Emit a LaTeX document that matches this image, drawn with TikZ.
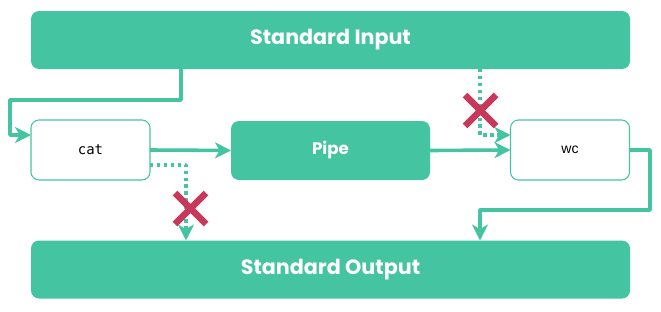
\documentclass[tikz,border=0pt]{standalone}
\usepackage{fontspec}
\setmainfont{Poppins}
\setsansfont{Liberation Sans}
\setmonofont{DejaVu Sans Mono}
\usetikzlibrary{arrows.meta}
\definecolor{tealbox}{HTML}{44C4A1}
\definecolor{crossred}{HTML}{C8385A}
\newcommand{\pxu}{0.75pt}

\begin{document}
\begin{tikzpicture}[x=0.75pt,y=-0.75pt,line join=round,
  every node/.style={inner sep=0pt,outer sep=0pt},
  stream/.style={rectangle,rounded corners=6pt,fill=tealbox,text=white,
    minimum width={599*\pxu},minimum height={58*\pxu},
    font=\fontsize{15.5pt}{18pt}\selectfont\bfseries},
  cmdbox/.style={rectangle,rounded corners=6pt,draw=tealbox,line width=0.8pt,fill=white,
    minimum width={119*\pxu},minimum height={60*\pxu},font=\fontsize{10.5pt}{12pt}\selectfont},
  pipebox/.style={rectangle,rounded corners=6pt,fill=tealbox,text=white,
    minimum width={199*\pxu},minimum height={59*\pxu},
    font=\fontsize{12.5pt}{14pt}\selectfont\bfseries},
  flow/.style={draw=tealbox,line width=2.7pt,
    -{Stealth[length=12pt,width=12pt,inset=3.5pt]}},
  blocked/.style={flow,dash pattern=on 2.6pt off 2.6pt},
  xmark/.style={draw=crossred,line width=4.8pt}]
  \path[use as bounding box] (0,0) rectangle (661,311);  % 源画布 661x311px
  % ---- 方框：中心取源图像素坐标 ----
  \node[stream]  (stdin)  at (330.5, 40.0) {Standard Input};
  \node[cmdbox]  (cat)    at ( 90.5,150.0) {\ttfamily cat};
  \node[pipebox] (pipe)   at (330.5,150.5) {Pipe};
  \node[cmdbox]  (wc)     at (570.0,150.0) {\sffamily wc};
  \node[stream]  (stdout) at (330.5,269.5) {Standard Output};
  % ---- 折点 ----
  \coordinate (j1) at (181,100);
  \coordinate (j2) at ( 10,135);
  \coordinate (j3) at (480,135);
  \coordinate (j4) at (186,165);
  \coordinate (j5) at (650,210);
  \coordinate (j6) at (480,210);
  % ---- 连线：实线通，点线被截断 ----
  \draw[flow] (stdin.south -| j1) -- (j1) -| (j2) -- (cat.west |- j2);
  \draw[flow] (cat.east) -- (pipe.west);
  \draw[flow] (pipe.east) -- (wc.west);
  \draw[flow] (wc.east) -| (j5) -- (j6) -- (stdout.north -| j6);
  \draw[blocked] (stdin.south -| j3) |- (wc.west |- j3);
  \draw[blocked] (cat.east |- j4) -| (stdout.north -| j4);
  % ---- 红叉 ----
  \draw[xmark] (465,95) -- (496,126) (465,126) -- (496,95);
  \draw[xmark] (175,193) -- (206,224) (175,224) -- (206,193);
\end{tikzpicture}
\end{document}
